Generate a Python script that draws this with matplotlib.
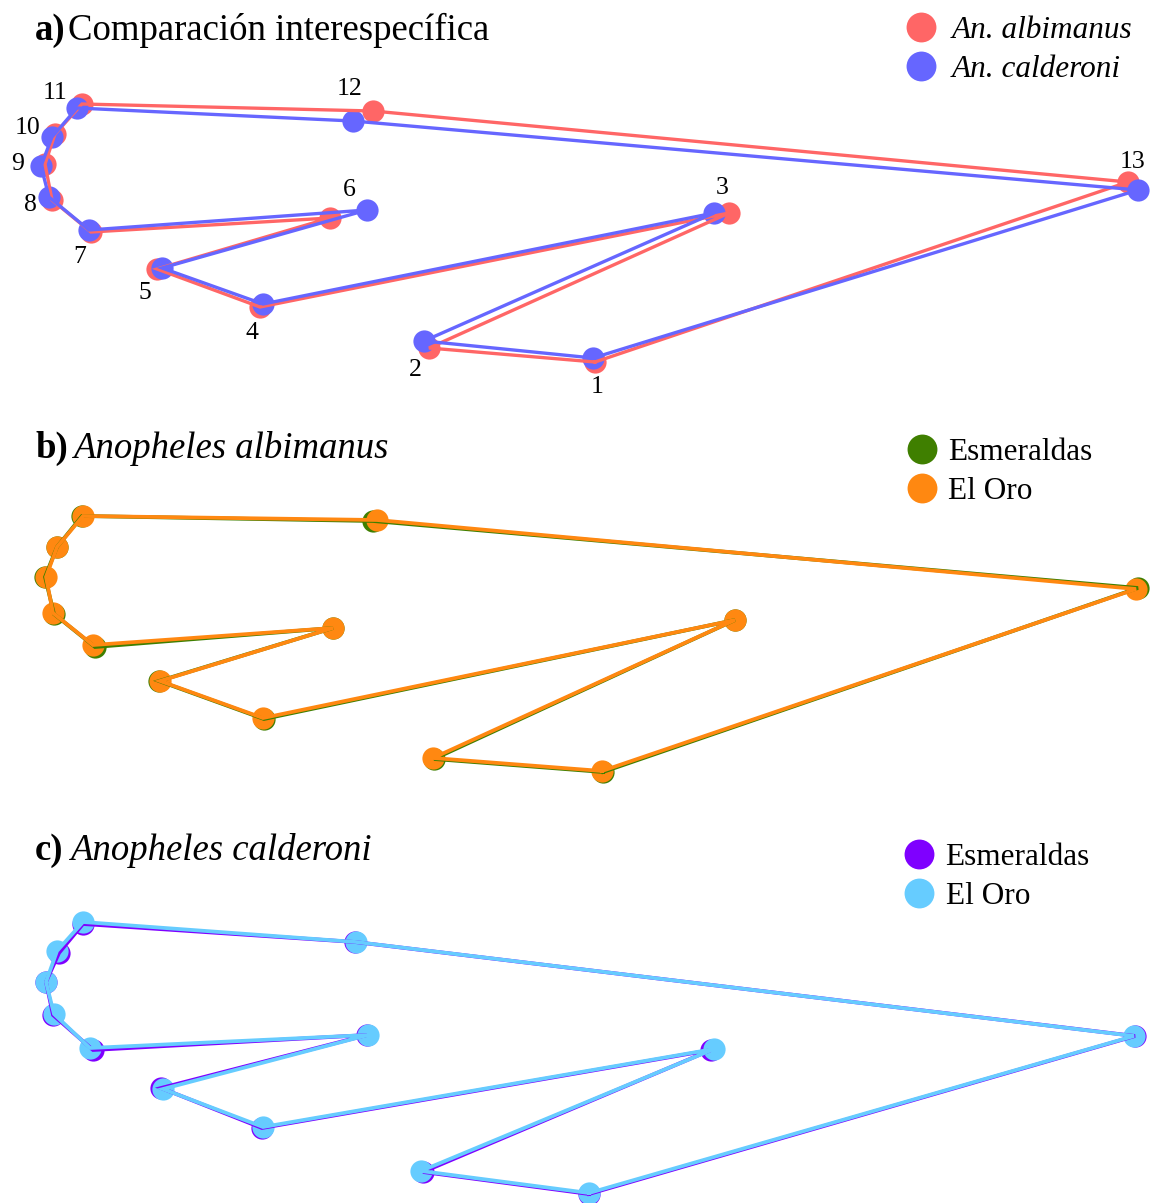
import matplotlib
matplotlib.use("Agg")
import matplotlib.pyplot as plt
from matplotlib.lines import Line2D

plt.rcParams['font.family'] = ['Liberation Serif', 'DejaVu Serif']

W, H = 1150, 1203
DPI = 100

# landmark numbers 1..13, polygon closes from 13 back to 1
landmarks = [str(i) for i in range(1, 14)]

# a) interspecific mean shapes (x right, y down)
alb_x = [595, 429, 729, 260, 157, 330, 91, 52, 45, 55, 82, 373, 1128]
alb_y = [362, 348, 213, 307, 269, 218, 232, 200, 164, 134, 104, 111, 182]
cal_x = [593, 424, 714, 263, 162, 367, 89, 49, 41, 52, 77, 353, 1138]
cal_y = [358, 341, 213, 304, 268, 210, 230, 197, 166, 137, 108, 121, 190]

# b) An. albimanus by province
alb_esm_x = [603, 434, 735, 264, 159, 333, 95, 54, 45, 57, 82, 373, 1138]
alb_esm_y = [372, 359, 220, 319, 281, 228, 247, 214, 177, 147, 116, 121, 188]
alb_oro_x = [602, 433, 735, 263, 160, 333, 93, 53, 46, 57, 83, 377, 1136]
alb_oro_y = [371, 358, 220, 318, 281, 228, 245, 213, 177, 147, 116, 120, 189]

# c) An. calderoni by province
cal_esm_x = [589, 423, 711, 262, 161, 367, 93, 53, 46, 59, 83, 355, 1135]
cal_esm_y = [394, 372, 250, 328, 288, 235, 250, 215, 182, 153, 124, 142, 236]
cal_oro_x = [589, 421, 714, 263, 163, 368, 90, 54, 46, 57, 83, 356, 1134]
cal_oro_y = [393, 371, 249, 327, 289, 235, 248, 214, 182, 151, 122, 142, 236]

# label offsets (pixels) from the albimanus landmark in panel a
label_dx = [2, -14, -7, -8, -12, 19, -11, -22, -27, -27, -27, -23, 5]
label_dy = [25, 22, -25, 26, 24, -28, 25, 5, 0, -6, -11, -22, -20]

RED, BLUE = '#FF6666', '#6666FF'
GREEN, ORANGE = '#3F7F00', '#FF8811'
PURPLE, CYAN = '#7F00FF', '#66CCFF'


def closed(v):
    return list(v) + [v[0]]


def panel(top, height):
    ax = fig.add_axes([0, 1 - (top + height) / H, 1, height / H])
    ax.set_xlim(0, W)
    ax.set_ylim(height, 0)
    ax.axis('off')
    return ax


def shapes(ax, groups, lw=2.4):
    for x, y, c, _ in groups:
        ax.plot(x, y, 'o', ms=16, color=c, mec='none', zorder=2, clip_on=False)
    for x, y, c, _ in groups:
        ax.plot(closed(x), closed(y), '-', lw=lw, color=c, zorder=3,
                clip_on=False, solid_joinstyle='miter')


def legend(ax, groups, x0, yc, style, pad=0.5):
    handles = [Line2D([], [], ls='none', marker='o', ms=21.5, color=c, mec='none')
               for _, _, c, _ in groups]
    labels = [g[3] for g in groups]
    leg = ax.legend(handles, labels, loc='center left', bbox_to_anchor=(x0, yc),
                    bbox_transform=ax.transData, frameon=False, borderpad=0,
                    borderaxespad=0, handlelength=1.0, handletextpad=pad,
                    labelspacing=0.3, prop={'size': 22.5, 'style': style})
    return leg


def title(ax, tag, text, x_text, y, style):
    ax.text(35, y, tag, fontsize=26.5, fontweight='bold', va='center')
    ax.text(x_text, y, text, fontsize=26.5, fontstyle=style, va='center')


fig = plt.figure(figsize=(W / DPI, H / DPI), dpi=DPI)

# a)
ax = panel(0, 400)
ga = [(alb_x, alb_y, RED, 'An. albimanus'), (cal_x, cal_y, BLUE, 'An. calderoni')]
shapes(ax, ga)
for i, lab in enumerate(landmarks):
    ax.annotate(lab, (alb_x[i], alb_y[i]), xytext=(label_dx[i], -label_dy[i]),
                textcoords='offset pixels', ha='center', va='center', fontsize=18.5)
title(ax, 'a)', 'Comparación interespecífica', 68, 30, 'normal')
legend(ax, ga, 905, 50, 'italic')

# b)
ax = panel(400, 400)
gb = [(alb_esm_x, alb_esm_y, GREEN, 'Esmeraldas'), (alb_oro_x, alb_oro_y, ORANGE, 'El Oro')]
shapes(ax, gb, lw=2.7)
title(ax, 'b)', 'Anopheles albimanus', 73, 48, 'italic')
legend(ax, gb, 906, 72, 'normal', pad=0.36)

# c)
ax = panel(800, 403)
gc = [(cal_esm_x, cal_esm_y, PURPLE, 'Esmeraldas'), (cal_oro_x, cal_oro_y, CYAN, 'El Oro')]
shapes(ax, gc, lw=2.7)
title(ax, 'c)', 'Anopheles calderoni', 70, 51, 'italic')
legend(ax, gc, 903, 77, 'normal', pad=0.36)

fig.savefig('out.png', dpi=DPI)
